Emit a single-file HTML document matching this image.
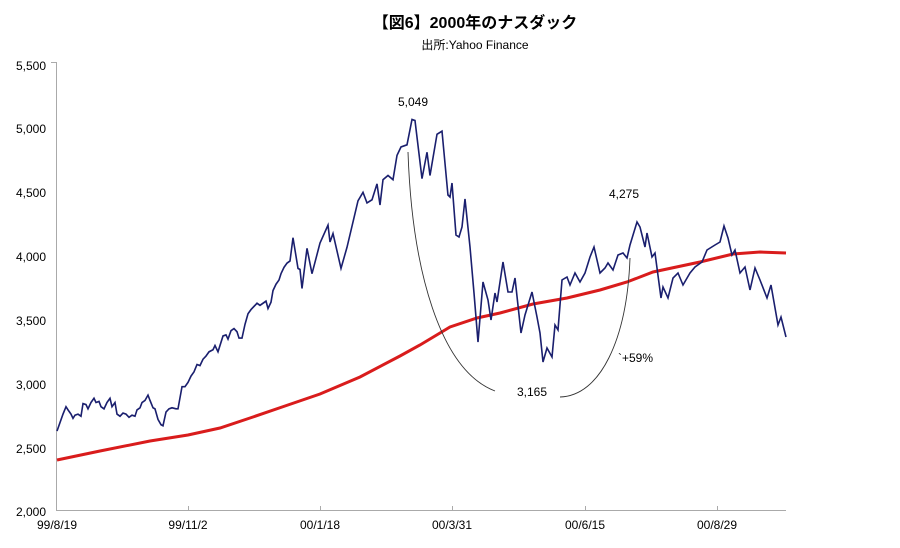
<!DOCTYPE html>
<html><head><meta charset="utf-8"><style>
body{margin:0;background:#fff;}
svg{display:block;font-family:"Liberation Sans","Noto Sans CJK JP",sans-serif;}
</style></head><body>
<svg width="900" height="548" viewBox="0 0 900 548">
<text x="475" y="28" text-anchor="middle" font-size="16" font-weight="bold">【図6】2000年のナスダック</text>
<text x="475" y="49" text-anchor="middle" font-size="12">出所:Yahoo Finance</text>
<g font-size="12" text-anchor="end" fill="#000">
<text x="46" y="70">5,500</text><text x="46" y="133">5,000</text><text x="46" y="197">4,500</text><text x="46" y="261">4,000</text><text x="46" y="325">3,500</text><text x="46" y="389">3,000</text><text x="46" y="453">2,500</text><text x="46" y="516">2,000</text>
</g>
<g stroke="#aaa" stroke-width="1" fill="none">
<line x1="56.5" y1="62" x2="56.5" y2="510"/>
<line x1="56" y1="510.5" x2="786" y2="510.5"/>
<line x1="51" y1="62.5" x2="56" y2="62.5"/>
<line x1="188.5" y1="510" x2="188.5" y2="506"/><line x1="320.5" y1="510" x2="320.5" y2="506"/><line x1="452.5" y1="510" x2="452.5" y2="506"/><line x1="585.5" y1="510" x2="585.5" y2="506"/><line x1="717.5" y1="510" x2="717.5" y2="506"/>
</g>
<g font-size="12" text-anchor="middle">
<text x="57" y="529">99/8/19</text><text x="188" y="529">99/11/2</text><text x="320" y="529">00/1/18</text><text x="452" y="529">00/3/31</text><text x="585" y="529">00/6/15</text><text x="717" y="529">00/8/29</text>
</g>
<polyline fill="none" stroke="#d91c1c" stroke-width="3" points="57,460 100,451 150,441 188,435 220,428 250,418 285,406 320,394 360,377 400,356 420,345 440,333 450,327 477,318 500,313 533,304 567,298 600,290 627,282 653,272 700,262 733,254 760,252 786,253"/>
<polyline fill="none" stroke="#1a1f6e" stroke-width="1.6" transform="matrix(1 0 0 1.056 0 -3)" points="57,411 60,403 63,395 66,388 68,391 71,395 73,399 75,396 78,395 81,397 83,385 86,386 88,390 91,384 94,380 96,384 99,383 101,388 104,390 107,384 110,380 112,388 115,384 117,395 120,397 123,394 126,395 129,398 132,396 135,397 137,391 140,389 142,384 145,382 148,377 150,382 153,389 155,390 158,400 161,405 163,406 166,393 169,390 172,389 176,390 178,390 182,369 185,369 188,365 191,359 194,355 197,348 200,349 203,343 206,340 209,336 213,334 215,330 218,336 221,327 223,321 226,320 228,324 231,316 234,314 237,317 239,323 242,323 245,310 248,300 251,296 254,293 257,290 260,292 263,290 266,288 268,295 271,289 273,278 276,272 279,268 281,262 284,256 287,252 290,250 293,228 298,257 300,258 302,276 307,238 312,262 320,233 328,216 330,232 333,224 341,257 347,237 352,217 358,193 363,185 367,195 372,192 377,177 380,197 383,173 388,169 393,173 397,150 401,142 407,140 412,116 415,117 422,172 427,147 430,169 437,130 442,127 448,188"/>
<polyline fill="none" stroke="#1a1f6e" stroke-width="1.6" points="448,195 450,197 452,183 456,235 459,237 462,227 465,199 470,247 474,293 478,342 483,282 488,300 491,320 495,293 497,302 503,262 508,292 512,292 515,278 521,333 525,315 532,292 537,317 540,333 543,362 547,348 552,357 555,325 558,330 562,280 567,277 570,285 575,273 580,282 585,273 590,257 594,247 600,273 605,268 608,263 613,270 618,255 623,253 627,258 630,245 637,222 640,227 645,247 647,233 652,257 655,253 661,298 663,287 668,298 673,278 678,273 683,285 690,273 695,267 702,262 707,250 715,245 720,242 724,226 728,238 732,255 735,250 740,273 745,267 750,290 755,268 760,280 767,298 771,285 778,325 781,317 786,337"/>
<path d="M408,152 C412,270 440,370 495,391" fill="none" stroke="#333" stroke-width="0.9"/>
<path d="M560,397 C600,396 627,340 630,258" fill="none" stroke="#333" stroke-width="0.9"/>
<g font-size="12">
<text x="398" y="106">5,049</text>
<text x="609" y="198">4,275</text>
<text x="517" y="396">3,165</text>
<text x="618" y="362">`+59%</text>
</g>
</svg>
</body></html>
